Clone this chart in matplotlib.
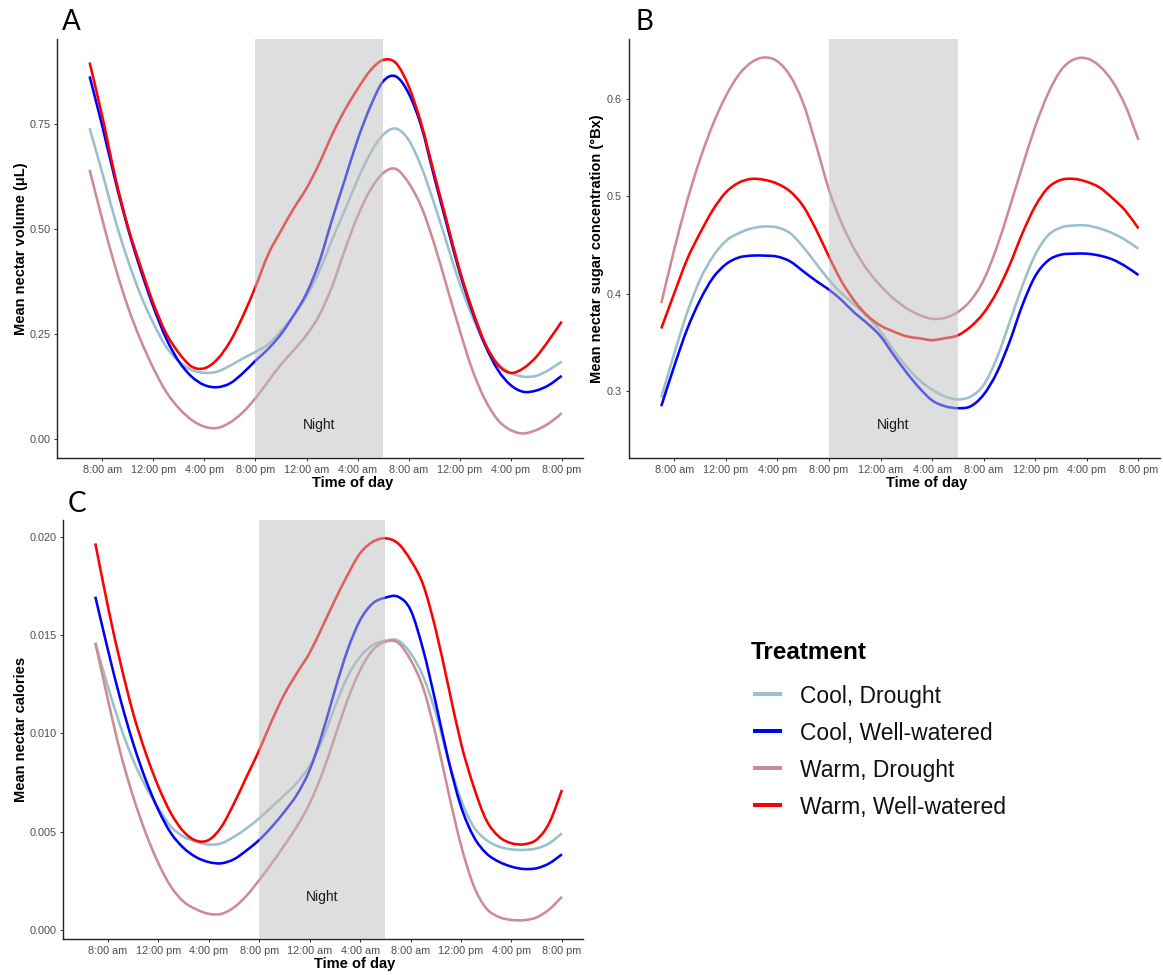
import matplotlib
matplotlib.use("Agg")
import matplotlib.pyplot as plt
from matplotlib.lines import Line2D
from matplotlib.path import Path
from matplotlib.patches import PathPatch

# ---------------------------------------------------------------- data
hours = list(range(7, 45))  # 7 am on day 1 to 8 pm on day 2
tick_hours = [8, 12, 16, 20, 24, 28, 32, 36, 40, 44]
tick_labels = ["8:00 am", "12:00 pm", "4:00 pm", "8:00 pm", "12:00 am",
               "4:00 am", "8:00 am", "12:00 pm", "4:00 pm", "8:00 pm"]
night_start, night_end = 20, 30

treatments = ["Cool, Drought", "Cool, Well-watered",
              "Warm, Drought", "Warm, Well-watered"]
colors = ["#9AC0CD", "#0000FF", "#CD8C95", "#FF0000"]

# Mean nectar volume (uL)
volume_cool_drought = [0.740, 0.633, 0.522, 0.426, 0.343, 0.276, 0.220, 0.185, 0.165, 0.158,
                       0.161, 0.175, 0.192, 0.208, 0.226, 0.258, 0.295, 0.340, 0.400, 0.474,
                       0.545, 0.617, 0.680, 0.724, 0.739, 0.712, 0.648, 0.561, 0.466, 0.371,
                       0.292, 0.224, 0.181, 0.158, 0.149, 0.151, 0.165, 0.185]
volume_cool_wet = [0.863, 0.744, 0.617, 0.502, 0.403, 0.315, 0.240, 0.185, 0.149, 0.129,
                   0.124, 0.133, 0.157, 0.187, 0.215, 0.250, 0.295, 0.347, 0.422, 0.522,
                   0.617, 0.712, 0.791, 0.851, 0.863, 0.823, 0.744, 0.625, 0.510, 0.397,
                   0.303, 0.224, 0.165, 0.129, 0.113, 0.116, 0.129, 0.151]
volume_warm_drought = [0.641, 0.522, 0.411, 0.315, 0.236, 0.169, 0.113, 0.074, 0.046, 0.030,
                       0.027, 0.040, 0.064, 0.098, 0.138, 0.178, 0.212, 0.248, 0.295, 0.363,
                       0.450, 0.530, 0.593, 0.633, 0.643, 0.610, 0.553, 0.466, 0.363, 0.260,
                       0.165, 0.094, 0.046, 0.022, 0.014, 0.022, 0.038, 0.062]
volume_warm_wet = [0.896, 0.767, 0.625, 0.506, 0.411, 0.323, 0.252, 0.205, 0.173, 0.169,
                   0.190, 0.232, 0.292, 0.363, 0.440, 0.496, 0.549, 0.597, 0.656, 0.724,
                   0.783, 0.833, 0.877, 0.902, 0.895, 0.840, 0.750, 0.633, 0.518, 0.403,
                   0.308, 0.228, 0.177, 0.158, 0.169, 0.196, 0.236, 0.280]

# Mean nectar sugar concentration (degrees Brix)
sugar_cool_drought = [0.293, 0.338, 0.380, 0.414, 0.438, 0.454, 0.462, 0.467, 0.469, 0.468,
                      0.462, 0.448, 0.431, 0.414, 0.400, 0.388, 0.376, 0.361, 0.342, 0.325,
                      0.311, 0.301, 0.294, 0.291, 0.294, 0.306, 0.333, 0.370, 0.408, 0.440,
                      0.460, 0.468, 0.470, 0.470, 0.467, 0.462, 0.455, 0.446]
sugar_cool_wet = [0.284, 0.325, 0.363, 0.393, 0.416, 0.430, 0.437, 0.439, 0.439, 0.438,
                  0.433, 0.423, 0.413, 0.404, 0.393, 0.380, 0.369, 0.356, 0.337, 0.319,
                  0.303, 0.290, 0.284, 0.282, 0.284, 0.296, 0.318, 0.350, 0.388, 0.418,
                  0.434, 0.440, 0.441, 0.441, 0.439, 0.435, 0.428, 0.419]
sugar_warm_drought = [0.390, 0.445, 0.495, 0.538, 0.574, 0.603, 0.625, 0.638, 0.643, 0.639,
                      0.624, 0.596, 0.553, 0.507, 0.472, 0.445, 0.424, 0.408, 0.395, 0.385,
                      0.378, 0.374, 0.375, 0.381, 0.393, 0.414, 0.447, 0.488, 0.531, 0.572,
                      0.606, 0.630, 0.641, 0.642, 0.634, 0.618, 0.593, 0.558]
sugar_warm_wet = [0.364, 0.400, 0.435, 0.462, 0.486, 0.504, 0.514, 0.518, 0.517, 0.513,
                  0.505, 0.490, 0.466, 0.438, 0.412, 0.392, 0.377, 0.367, 0.361, 0.356,
                  0.354, 0.352, 0.354, 0.357, 0.366, 0.380, 0.401, 0.429, 0.462, 0.490,
                  0.509, 0.517, 0.518, 0.515, 0.509, 0.498, 0.485, 0.467]

# Mean nectar calories
calories_cool_drought = [0.01461, 0.01237, 0.01034, 0.00864, 0.00729, 0.00620, 0.00525, 0.00474,
                         0.00449, 0.00434, 0.00441, 0.00474, 0.00517, 0.00568, 0.00627, 0.00686,
                         0.00750, 0.00835, 0.00966, 0.01136, 0.01288, 0.01390, 0.01449, 0.01471,
                         0.01472, 0.01407, 0.01288, 0.01102, 0.00864, 0.00661, 0.00525, 0.00458,
                         0.00424, 0.00410, 0.00407, 0.00415, 0.00441, 0.00492]
calories_cool_wet = [0.01695, 0.01424, 0.01170, 0.00949, 0.00763, 0.00610, 0.00492, 0.00417,
                     0.00370, 0.00345, 0.00339, 0.00360, 0.00405, 0.00458, 0.00525, 0.00602,
                     0.00690, 0.00814, 0.01000, 0.01220, 0.01424, 0.01576, 0.01661, 0.01690,
                     0.01695, 0.01627, 0.01424, 0.01153, 0.00864, 0.00627, 0.00475, 0.00390,
                     0.00347, 0.00322, 0.00310, 0.00314, 0.00339, 0.00385]
calories_warm_drought = [0.01461, 0.01170, 0.00899, 0.00678, 0.00492, 0.00339, 0.00220, 0.00144,
                         0.00105, 0.00082, 0.00082, 0.00115, 0.00175, 0.00254, 0.00339, 0.00432,
                         0.00528, 0.00644, 0.00797, 0.00983, 0.01170, 0.01322, 0.01424, 0.01466,
                         0.01461, 0.01373, 0.01230, 0.00990, 0.00700, 0.00430, 0.00225, 0.00110,
                         0.00066, 0.00051, 0.00050, 0.00064, 0.00105, 0.00169]
calories_warm_wet = [0.01966, 0.01644, 0.01356, 0.01102, 0.00899, 0.00729, 0.00593, 0.00500,
                     0.00454, 0.00458, 0.00525, 0.00644, 0.00780, 0.00915, 0.01065, 0.01200,
                     0.01308, 0.01410, 0.01542, 0.01678, 0.01805, 0.01916, 0.01974, 0.01992,
                     0.01966, 0.01881, 0.01755, 0.01525, 0.01237, 0.00949, 0.00729, 0.00559,
                     0.00475, 0.00441, 0.00436, 0.00460, 0.00545, 0.00712]

volume_ticks = [0.0, 0.25, 0.50, 0.75]
volume_tick_labels = ["0.00", "0.25", "0.50", "0.75"]
sugar_ticks = [0.3, 0.4, 0.5, 0.6]
sugar_tick_labels = ["0.3", "0.4", "0.5", "0.6"]
calories_ticks = [0.0, 0.005, 0.010, 0.015, 0.020]
calories_tick_labels = ["0.000", "0.005", "0.010", "0.015", "0.020"]

# ---------------------------------------------------------------- style
W, H = 1163, 975
plt.rcParams["font.family"] = ["Liberation Sans", "DejaVu Sans"]

fig = plt.figure(figsize=(W / 100, H / 100), dpi=100)
fig.patch.set_facecolor("white")


def px_axes(left, top, right, bottom):
    """Axes placed by pixel box (left, top, right, bottom)."""
    return fig.add_axes([left / W, 1 - bottom / H, (right - left) / W, (bottom - top) / H])


def smooth_line(ax, x, y, color):
    """Draw a series as a Catmull-Rom style Bezier path through its points."""
    n = len(x)
    verts = [(x[0], y[0])]
    codes = [Path.MOVETO]
    for i in range(n - 1):
        i0, i2, i3 = max(i - 1, 0), i + 1, min(i + 2, n - 1)
        c1 = (x[i] + (x[i2] - x[i0]) / 6.0, y[i] + (y[i2] - y[i0]) / 6.0)
        c2 = (x[i2] - (x[i3] - x[i]) / 6.0, y[i2] - (y[i3] - y[i]) / 6.0)
        verts += [c1, c2, (x[i2], y[i2])]
        codes += [Path.CURVE4] * 3
    ax.add_patch(PathPatch(Path(verts, codes), fill=False, edgecolor=color, lw=1.85,
                           capstyle="butt", joinstyle="round", zorder=2))


def draw_panel(ax, series, yticks, ylabels, ylim, ylabel, night_y, ylabel_x):
    for values, color in zip(series, colors):
        smooth_line(ax, hours, values, color)
    ax.axvspan(night_start, night_end, facecolor="#BEBEBE", alpha=0.5, lw=0, zorder=3)
    ax.text((night_start + night_end) / 2, night_y, "Night", ha="center", va="center",
            fontsize=10, color="#1a1a1a", zorder=4)
    ax.set_xlim(4.46, 45.67)
    ax.set_ylim(*ylim)
    ax.set_xticks(tick_hours)
    ax.set_xticklabels(tick_labels)
    ax.set_yticks(yticks)
    ax.set_yticklabels(ylabels)
    ax.tick_params(axis="both", direction="out", length=2.3, width=0.7, color="#333333",
                   labelsize=7.8, labelcolor="#4D4D4D", pad=2.6)
    for side in ("top", "right"):
        ax.spines[side].set_visible(False)
    for side in ("left", "bottom"):
        ax.spines[side].set_linewidth(1.0)
        ax.spines[side].set_color("#222222")
    ax.set_xlabel("Time of day", fontsize=10.5, fontweight="bold", va="baseline")
    ax.xaxis.set_label_coords(0.561, -0.070)
    ax.set_ylabel(ylabel, fontsize=10.5, fontweight="bold", va="center")
    ax.yaxis.set_label_coords(ylabel_x, 0.5)


ax_a = px_axes(57.2, 39, 583, 457.7)
draw_panel(ax_a,
           [volume_cool_drought, volume_cool_wet, volume_warm_drought, volume_warm_wet],
           volume_ticks, volume_tick_labels, (-0.0437, 0.952),
           "Mean nectar volume (\u03bcL)", 0.034, -0.0694)

ax_b = px_axes(628.5, 39, 1160, 457.7)
draw_panel(ax_b,
           [sugar_cool_drought, sugar_cool_wet, sugar_warm_drought, sugar_warm_wet],
           sugar_ticks, sugar_tick_labels, (0.231, 0.662),
           "Mean nectar sugar concentration (\u00b0Bx)", 0.2646, -0.0596)

ax_c = px_axes(63.3, 520, 583, 939)
draw_panel(ax_c,
           [calories_cool_drought, calories_cool_wet, calories_warm_drought, calories_warm_wet],
           calories_ticks, calories_tick_labels, (-0.00046, 0.02085),
           "Mean nectar calories", 0.0017, -0.082)

# Panel letters
for letter, x, y in (("A", 62, 30), ("B", 636, 30), ("C", 67.5, 511.5)):
    fig.text(x / W, 1 - y / H, letter, fontsize=20, family=["Lato", "DejaVu Sans"],
             ha="left", va="baseline", color="black")

# Legend
fig.text(750.5 / W, 1 - 659 / H, "Treatment", fontsize=17.5, fontweight="bold",
         ha="left", va="baseline")
for i, (name, color) in enumerate(zip(treatments, colors)):
    y_key = 694 + 37 * i
    fig.add_artist(Line2D([753 / W, 782 / W], [1 - y_key / H] * 2, color=color, lw=2.9,
                          solid_capstyle="butt"))
    fig.text(800 / W, 1 - (y_key + 9.3) / H, name, fontsize=16.5, ha="left", va="baseline",
             color="#111111")

fig.savefig("out.png", dpi=100, facecolor="white")
